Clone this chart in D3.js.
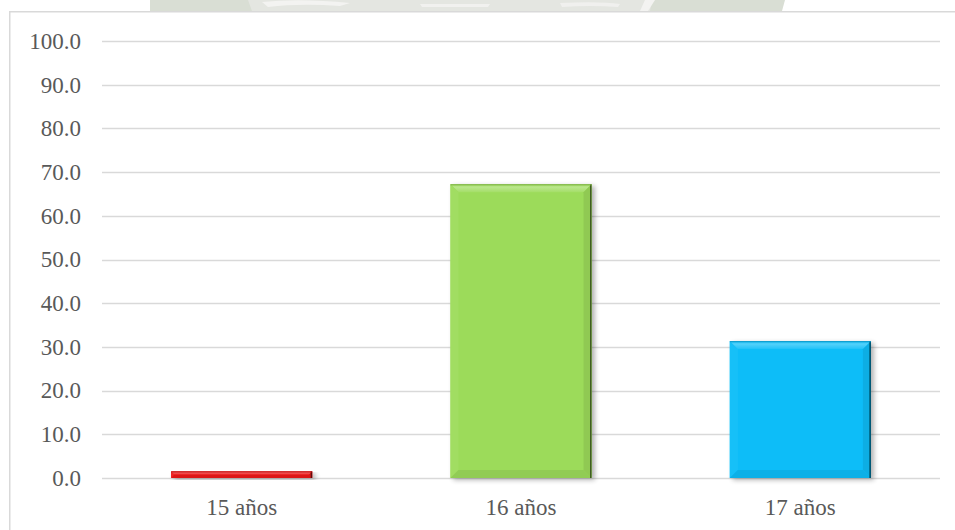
<!DOCTYPE html>
<html>
<head>
<meta charset="utf-8">
<script src="https://cdn.jsdelivr.net/npm/d3@7"></script>
<style>
  html, body { margin: 0; padding: 0; background: #ffffff; }
  svg { display: block; }
</style>
</head>
<body>
<svg id="chart" width="955" height="530"></svg>
<script>
const categories = ["15 años", "16 años", "17 años"];
const values = [1.5, 67.2, 31.3];
const barColors = ["#EE1B1B", "#9CDB5A", "#0BBDF8"];
const yTicks = [0, 10, 20, 30, 40, 50, 60, 70, 80, 90, 100];

const svg = d3.select("#chart");
const plot = { left: 102, right: 940, top: 41, bottom: 478 };

// faint watermark remnant at the very top
const wm = svg.append("g");
wm.append("path").attr("d", "M150,0 L785,0 L782,11 L150,11 Z").attr("fill", "#d9ded4");
wm.append("path").attr("d", "M248,0 L652,0 L650,11 L252,11 Z").attr("fill", "#e4e6e1");
wm.append("path").attr("d", "M262,2 Q300,-2 350,3 L340,6 Q300,3 268,7 Z").attr("fill", "#f3f3f1");
wm.append("path").attr("d", "M420,4 L490,4 L488,7 L422,7 Z").attr("fill", "#f1f1ef");
wm.append("path").attr("d", "M560,3 Q600,1 620,4 L618,7 Q590,5 562,7 Z").attr("fill", "#f0f0ee");
wm.append("path").attr("d", "M645,0 L655,0 L648,11 L640,11 Z").attr("fill", "#f3f3f1");

// chart border
svg.append("rect")
  .attr("x", 9.75).attr("y", 11.75)
  .attr("width", 960).attr("height", 540)
  .attr("fill", "#ffffff")
  .attr("stroke", "#d9d9d9").attr("stroke-width", 1.5);

const x = d3.scaleBand().domain(categories).range([plot.left, plot.right]).padding(0);
const y = d3.scaleLinear().domain([0, 100]).range([plot.bottom, plot.top]);

// gridlines
svg.append("g").selectAll("line").data(yTicks).join("line")
  .attr("x1", plot.left).attr("x2", plot.right)
  .attr("y1", d => Math.round(y(d)) + 0.5).attr("y2", d => Math.round(y(d)) + 0.5)
  .attr("stroke", "#d9d9d9").attr("stroke-width", 1.5);

// y axis labels
svg.append("g").selectAll("text").data(yTicks).join("text")
  .attr("x", 81).attr("y", d => y(d))
  .attr("dy", "0.34em")
  .attr("text-anchor", "end")
  .attr("font-family", "'Liberation Serif', 'Times New Roman', serif")
  .attr("font-size", 23)
  .attr("fill", "#595959")
  .text(d => d3.format(".1f")(d));

// x axis labels
svg.append("g").selectAll("text").data(categories).join("text")
  .attr("x", d => x(d) + x.bandwidth() / 2)
  .attr("y", plot.bottom + 37)
  .attr("text-anchor", "middle")
  .attr("font-family", "'Liberation Serif', 'Times New Roman', serif")
  .attr("font-size", 23)
  .attr("fill", "#595959")
  .text(d => d);

// shadow filter
const defs = svg.append("defs");
const f = defs.append("filter").attr("id", "shadow").attr("x", "-10%").attr("y", "-10%").attr("width", "130%").attr("height", "130%");
f.append("feGaussianBlur").attr("in", "SourceAlpha").attr("stdDeviation", 2.5).attr("result", "blur");
f.append("feOffset").attr("in", "blur").attr("dx", 3).attr("dy", 2).attr("result", "off");
f.append("feComponentTransfer").attr("in", "off").attr("result", "soft")
  .append("feFuncA").attr("type", "linear").attr("slope", 0.3);
const m = f.append("feMerge");
m.append("feMergeNode").attr("in", "soft");
m.append("feMergeNode").attr("in", "SourceGraphic");

const barFrac = 0.505;
const bars = svg.append("g").selectAll("g").data(categories).join("g")
  .attr("filter", "url(#shadow)");

bars.each(function(c, i) {
  const g = d3.select(this);
  const bw = x.bandwidth() * barFrac;
  const x0 = x(c) + (x.bandwidth() - bw) / 2;
  const x1 = x0 + bw;
  const y0 = y(values[i]);
  const y1 = y(0);
  const h = y1 - y0;
  const b = Math.min(8, h / 2);
  const light = d3.interpolateRgb(barColors[i], "#ffffff");
  const dark = d3.interpolateRgb(barColors[i], "#000000");

  g.append("rect").attr("x", x0).attr("y", y0).attr("width", bw).attr("height", h).attr("fill", barColors[i]);
  // top bevel
  const tg = defs.append("linearGradient").attr("id", "tg" + i).attr("x1", 0).attr("y1", 0).attr("x2", 0).attr("y2", 1);
  tg.append("stop").attr("offset", 0).attr("stop-color", light(0.05));
  tg.append("stop").attr("offset", 0.35).attr("stop-color", light(0.3));
  tg.append("stop").attr("offset", 1).attr("stop-color", light(0.08));
  g.append("path").attr("d", `M${x0},${y0} L${x1},${y0} L${x1 - b},${y0 + b} L${x0 + b},${y0 + b} Z`).attr("fill", `url(#tg${i})`);
  // left bevel
  g.append("path").attr("d", `M${x0},${y0} L${x0 + b},${y0 + b} L${x0 + b},${y1 - b} L${x0},${y1} Z`).attr("fill", light(0.05));
  // right bevel
  g.append("path").attr("d", `M${x1},${y0} L${x1},${y1} L${x1 - b},${y1 - b} L${x1 - b},${y0 + b} Z`).attr("fill", dark(0.08));
  // bottom bevel
  g.append("path").attr("d", `M${x0},${y1} L${x1},${y1} L${x1 - b},${y1 - b} L${x0 + b},${y1 - b} Z`).attr("fill", dark(0.07));
  // dark right edge line
  g.append("line").attr("x1", x1 - 0.75).attr("x2", x1 - 0.75).attr("y1", y0).attr("y2", y1)
    .attr("stroke", dark(0.6)).attr("stroke-width", 1.5);
  // thin top edge line
  g.append("line").attr("x1", x0).attr("x2", x1).attr("y1", y0 + 0.5).attr("y2", y0 + 0.5)
    .attr("stroke", dark(0.2)).attr("stroke-width", 1);
});
</script>
</body>
</html>
